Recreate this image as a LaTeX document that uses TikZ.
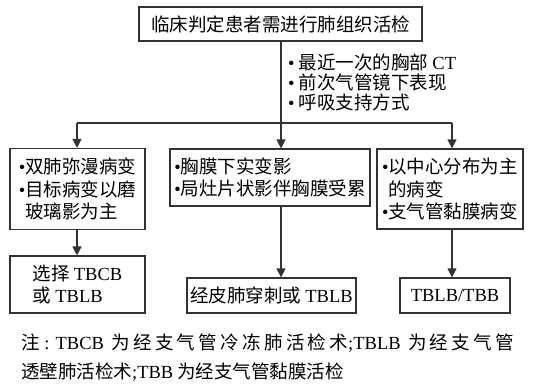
\documentclass[tikz,border=0pt]{standalone}
\usepackage{fontspec}
\setmainfont{Noto Sans CJK SC}
\newfontfamily\enf{Liberation Serif}
\newcommand\en[1]{{\enf #1}}
\newcommand\bul{{\enf •}}
\usetikzlibrary{arrows.meta}
\begin{document}
\begin{tikzpicture}[x=1pt,y=-1pt,
  box/.style={draw=black!80, line width=1.2pt, inner sep=0pt, align=left,
    font=\fontsize{18.5}{22.5}\selectfont},
  conn/.style={draw=black!80, line width=1.2pt},
  arr/.style={conn, -{Triangle[width=9pt,length=9pt]}},
  plain/.style={inner sep=0pt, align=left, font=\fontsize{18.5}{20}\selectfont}]
\useasboundingbox (0,0) rectangle (535,391);
% boxes
\node[box, minimum width=283pt, minimum height=34pt] (top) at (280.5,24)
  {临床判定患者需进行肺组织活检};
\node[box, minimum width=135pt, minimum height=81pt] (l1) at (77.5,189)
  {\bul 双肺弥漫病变\\\bul 目标病变以磨\\\hphantom{\bul}玻璃影为主};
\node[box, minimum width=200pt, minimum height=57pt] (m1) at (270,177.5)
  {\bul 胸膜下实变影\\\bul 局灶片状影伴胸膜受累};
\node[box, minimum width=146pt, minimum height=80pt] (r1) at (450,189)
  {\bul 以中心分布为主\\\hphantom{\bul}的病变\\\bul 支气管黏膜病变};
\node[box, minimum width=135pt, minimum height=57pt] (l2) at (77.5,284.5)
  {选择 \en{TBCB}\\或 \en{TBLB}};
\node[box, minimum width=169pt, minimum height=35pt] (m2) at (271.5,295.5)
  {经皮肺穿刺或 \en{TBLB}};
\node[box, minimum width=110pt, minimum height=35pt] (r2) at (455,295.5)
  {\en{TBLB/TBB}};
% criteria list
\node[plain, anchor=west] (crit) at (288,82)
  {\bul\ 最近一次的胸部 \en{CT}\\\bul\ 前次气管镜下表现\\\bul\ 呼吸支持方式};
% connectors
\coordinate (j) at (281,123);
\coordinate (jl) at (77,123);
\coordinate (jr) at (452,123);
\draw[conn] (top.south -| j) -- (j);
\draw[conn] (jl) -- (jr);
\draw[arr] (jl) -- (jl |- l1.north);
\draw[arr] (j) -- (j |- m1.north);
\draw[arr] (jr) -- (jr |- r1.north);
\draw[arr] (l1.south -| jl) -- (jl |- l2.north);
\draw[arr] (m1.south -| j) -- (j |- m2.north);
\draw[arr] (r1.south -| jr) -- (jr |- r2.north);
% note
\node[plain, anchor=west] (n1) at (21,343)
  {\addfontfeature{LetterSpace=18}注\en{ : TBCB} 为经支气管冷冻肺活检术\en{;TBLB} 为经支气管};
\node[plain, anchor=west] (n2) at (21,372)
  {透壁肺活检术\en{;TBB} 为经支气管黏膜活检};
\end{tikzpicture}
\end{document}
